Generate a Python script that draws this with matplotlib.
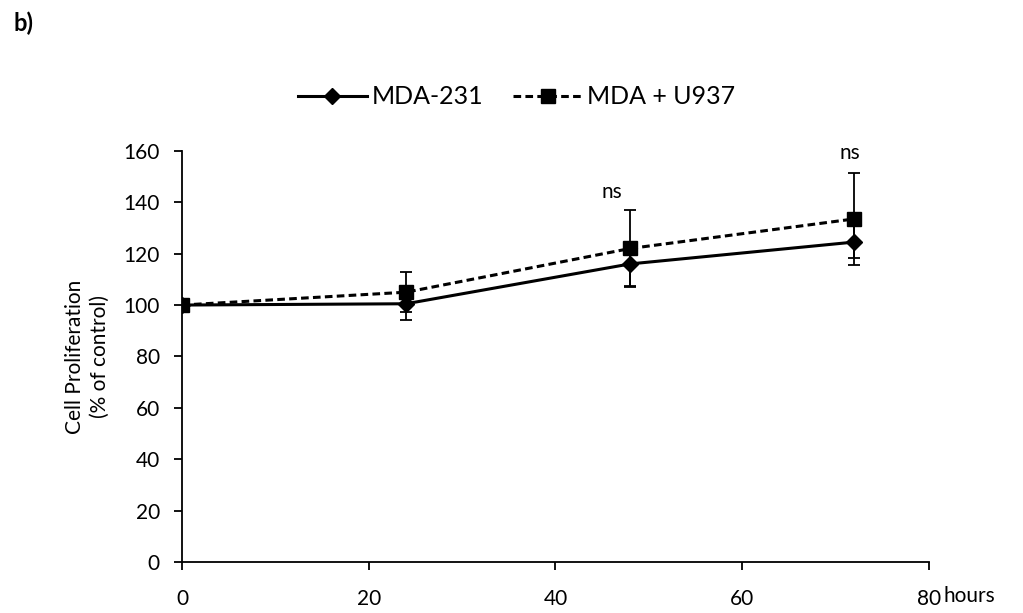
import matplotlib.pyplot as plt
from matplotlib.lines import Line2D

plt.rcParams['font.family'] = ['Lato', 'DejaVu Sans']

hours = [0, 24, 48, 72]
mda231 = [100, 100.5, 116, 124.5]
mda231_err = [0, 6.3, 8.5, 6.3]
mda_u937 = [100, 105, 122, 133.5]
mda_u937_err = [0, 7.9, 15, 17.8]
ns_labels = [(46, 144, 'ns'), (71.5, 159, 'ns')]

dash = (0, (2.5, 1.4))

fig = plt.figure(figsize=(10.23, 6.13), dpi=100)
ax = fig.add_axes([0.178, 0.083, 0.730, 0.671])

ax.errorbar(hours, mda231, yerr=mda231_err, color='black', lw=2.2,
            marker='D', ms=8, capsize=4, elinewidth=1.3, capthick=1.3,
            label='MDA-231')
ax.errorbar(hours, mda_u937, yerr=mda_u937_err, color='black', lw=2.2,
            ls=dash, marker='s', ms=9.5, capsize=4, elinewidth=1.3,
            capthick=1.3, label='MDA + U937')

for x, y, t in ns_labels:
    ax.text(x, y, t, ha='center', va='center', fontsize=15)

ax.set_xlim(0, 80)
ax.set_ylim(0, 160)
ax.set_xticks([0, 20, 40, 60, 80])
ax.set_yticks(range(0, 161, 20))
ax.spines['top'].set_visible(False)
ax.spines['right'].set_visible(False)
ax.spines['left'].set_linewidth(1.3)
ax.spines['bottom'].set_linewidth(1.3)
ax.tick_params(direction='out', length=6, width=1.3, labelsize=15)
ax.tick_params(axis='x', pad=13)
ax.tick_params(axis='y', pad=10)
ax.set_ylabel('Cell Proliferation\n(% of control)', fontsize=15, labelpad=10,
              linespacing=1.3)
ax.text(81.6, -13.3, 'hours', fontsize=15, ha='left', va='center', clip_on=False)

handles = [Line2D([], [], color='black', lw=2.2, marker='D', ms=8.5),
           Line2D([], [], color='black', lw=2.2, ls=dash, marker='s', ms=9.5)]
fig.legend(handles, ['MDA-231', 'MDA + U937'], loc='center', ncol=2,
           bbox_to_anchor=(0.505, 0.842), frameon=False, fontsize=18,
           handlelength=2.76, columnspacing=1.2, handletextpad=0.2)

fig.text(0.013, 0.962, 'b)', fontsize=17, fontweight='bold', ha='left', va='center')

fig.savefig('out.png', dpi=100)
